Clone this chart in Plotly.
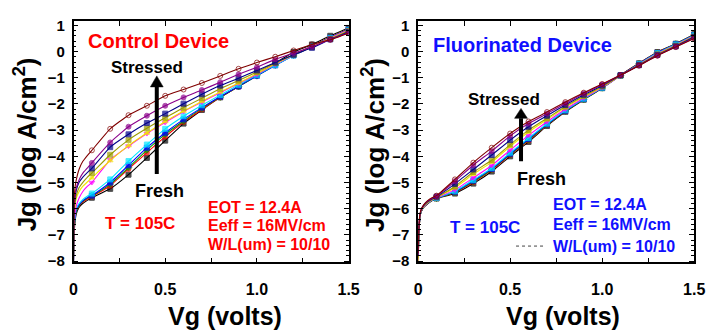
import plotly.graph_objects as go

W, H = 715, 336

# shared Vg grid (dense near 0 for the steep rise, markers every 0.1 V)
vg = [0, 0.003, 0.008, 0.015, 0.03, 0.05, 0.075,
      0.1, 0.2, 0.3, 0.4, 0.5, 0.6, 0.7, 0.8, 0.9, 1.0, 1.1, 1.2, 1.3, 1.4, 1.5]

curve_names = ["fresh", "s1", "s2", "s3", "s4", "s5", "s6", "s7", "s8", "s9", "s10"]
curve_colors = ["#000000", "#ff0000", "#00a000", "#0000ff", "#00e5ff", "#ff00ff",
                "#f2e600", "#999900", "#000088", "#8b008b", "#800000"]
curve_symbols = ["square", "circle", "diamond", "square", "square", "triangle-down",
                 "triangle-up", "square", "square", "circle", "circle-open"]

# Control device, log10(Jg)
ctrl_fresh = [-8, -7.1, -6.5, -6.2, -5.95, -5.8, -5.68,
              -5.58, -5.24, -4.7, -4.06, -3.4, -2.75, -2.23, -1.75, -1.33, -0.88, -0.44, -0.02, 0.27, 0.6, 0.9]
ctrl_s1 = [-8, -7.0, -6.4, -6.1, -5.9, -5.75, -5.64,
           -5.54, -5.12, -4.48, -3.86, -3.25, -2.69, -2.21, -1.75, -1.34, -0.92, -0.5, -0.12, 0.21, 0.55, 0.86]
ctrl_s2 = [-8, -7.0, -6.4, -6.1, -5.88, -5.72, -5.6,
           -5.51, -5.06, -4.43, -3.76, -3.16, -2.65, -2.17, -1.74, -1.34, -0.93, -0.52, -0.14, 0.2, 0.54, 0.85]
ctrl_s3 = [-8, -6.9, -6.35, -6.05, -5.85, -5.7, -5.58,
           -5.5, -5.0, -4.34, -3.67, -3.1, -2.59, -2.14, -1.72, -1.33, -0.93, -0.53, -0.15, 0.19, 0.53, 0.84]
ctrl_s4 = [-8, -6.9, -6.3, -6.0, -5.8, -5.65, -5.52,
           -5.42, -4.88, -4.18, -3.55, -2.95, -2.47, -2.05, -1.66, -1.27, -0.9, -0.52, -0.15, 0.18, 0.52, 0.83]
ctrl_s5 = [-8, -6.8, -6.2, -5.9, -5.6, -5.35, -5.15,
           -5.0, -4.13, -3.61, -3.13, -2.71, -2.29, -1.93, -1.57, -1.22, -0.87, -0.49, -0.13, 0.19, 0.52, 0.82]
ctrl_s6 = [-7.8, -6.5, -5.9, -5.6, -5.35, -5.15, -4.98,
           -4.82, -4.16, -3.59, -3.11, -2.67, -2.27, -1.9, -1.54, -1.2, -0.84, -0.47, -0.13, 0.18, 0.5, 0.8]
ctrl_s7 = [-7.8, -6.4, -5.8, -5.5, -5.2, -5.0, -4.8,
           -4.64, -3.94, -3.37, -2.93, -2.53, -2.14, -1.78, -1.42, -1.11, -0.78, -0.43, -0.12, 0.17, 0.48, 0.78]
ctrl_s8 = [-7.6, -6.2, -5.6, -5.3, -5.0, -4.8, -4.62,
           -4.46, -3.65, -3.16, -2.73, -2.37, -1.99, -1.63, -1.3, -1.02, -0.72, -0.42, -0.12, 0.14, 0.46, 0.75]
ctrl_s9 = [-7.5, -6.0, -5.5, -5.2, -4.9, -4.65, -4.45,
           -4.25, -3.47, -2.87, -2.45, -2.07, -1.75, -1.47, -1.17, -0.87, -0.6, -0.3, -0.06, 0.18, 0.46, 0.72]
ctrl_s10 = [-7.3, -5.7, -5.2, -4.9, -4.5, -4.2, -3.97,
            -3.77, -2.95, -2.43, -2.07, -1.69, -1.45, -1.2, -0.93, -0.66, -0.42, -0.2, 0.04, 0.27, 0.45, 0.7]

# Fluorinated device, log10(Jg)
fl_fresh = [-8, -7.3, -6.5, -6.15, -5.95, -5.82, -5.7,
            -5.61, -5.42, -5.04, -4.58, -4.0, -3.45, -2.84, -2.3, -1.84, -1.4, -0.9, -0.45, -0.02, 0.3, 0.66]
fl_s1 = [-8, -7.3, -6.5, -6.15, -5.94, -5.81, -5.69,
         -5.6, -5.38, -4.99, -4.52, -3.95, -3.4, -2.81, -2.28, -1.82, -1.39, -0.9, -0.46, -0.03, 0.29, 0.65]
fl_s2 = [-8, -7.25, -6.48, -6.14, -5.94, -5.8, -5.69,
         -5.6, -5.37, -4.96, -4.5, -3.93, -3.37, -2.8, -2.27, -1.82, -1.39, -0.91, -0.47, -0.04, 0.29, 0.64]
fl_s3 = [-8, -7.2, -6.46, -6.13, -5.93, -5.8, -5.68,
         -5.59, -5.35, -4.93, -4.48, -3.9, -3.34, -2.78, -2.26, -1.81, -1.38, -0.91, -0.47, -0.05, 0.28, 0.63]
fl_s4 = [-8, -7.2, -6.45, -6.12, -5.93, -5.79, -5.68,
         -5.59, -5.33, -4.9, -4.45, -3.86, -3.3, -2.75, -2.24, -1.8, -1.38, -0.92, -0.48, -0.06, 0.27, 0.62]
fl_s5 = [-8, -7.1, -6.42, -6.1, -5.92, -5.78, -5.67,
         -5.58, -5.28, -4.82, -4.35, -3.76, -3.2, -2.68, -2.2, -1.77, -1.37, -0.93, -0.49, -0.08, 0.25, 0.6]
fl_s6 = [-8, -7.1, -6.4, -6.1, -5.91, -5.77, -5.66,
         -5.57, -5.2, -4.68, -4.22, -3.62, -3.07, -2.6, -2.14, -1.73, -1.35, -0.92, -0.5, -0.1, 0.23, 0.58]
fl_s7 = [-7.9, -7.0, -6.38, -6.09, -5.9, -5.76, -5.65,
         -5.56, -5.15, -4.6, -4.15, -3.55, -3.0, -2.55, -2.1, -1.7, -1.33, -0.92, -0.51, -0.11, 0.22, 0.57]
fl_s8 = [-7.8, -7.0, -6.35, -6.08, -5.88, -5.74, -5.63,
         -5.54, -5.05, -4.5, -3.95, -3.38, -2.87, -2.45, -2.04, -1.65, -1.3, -0.91, -0.52, -0.13, 0.2, 0.55]
fl_s9 = [-7.8, -6.9, -6.32, -6.06, -5.86, -5.72, -5.61,
         -5.52, -4.95, -4.33, -3.8, -3.22, -2.75, -2.37, -1.98, -1.6, -1.26, -0.9, -0.53, -0.15, 0.18, 0.52]
fl_s10 = [-7.7, -6.9, -6.3, -6.05, -5.85, -5.7, -5.58,
          -5.5, -4.88, -4.24, -3.67, -3.13, -2.67, -2.31, -1.93, -1.57, -1.24, -0.9, -0.54, -0.16, 0.17, 0.5]

ctrl_curves = [ctrl_fresh, ctrl_s1, ctrl_s2, ctrl_s3, ctrl_s4, ctrl_s5,
               ctrl_s6, ctrl_s7, ctrl_s8, ctrl_s9, ctrl_s10]
fl_curves = [fl_fresh, fl_s1, fl_s2, fl_s3, fl_s4, fl_s5,
             fl_s6, fl_s7, fl_s8, fl_s9, fl_s10]

y_ticks = [-8, -7, -6, -5, -4, -3, -2, -1, 0, 1]
x_ticks = [0, 0.5, 1.0, 1.5]
x_tick_text = ["0", "0.5", "1.0", "1.5"]

FONT = "Liberation Sans, Arial, sans-serif"

msize = [0] * 7 + [5] * 15

fig = go.Figure()
for curves, xa, ya in [(ctrl_curves, "x", "y"), (fl_curves, "x2", "y2")]:
    for i, yv in enumerate(curves):
        fig.add_trace(go.Scatter(
            x=vg, y=yv, xaxis=xa, yaxis=ya, mode="lines+markers",
            name=curve_names[i], showlegend=False, cliponaxis=True,
            line=dict(color=curve_colors[i], width=1.1, shape="spline", smoothing=0.4),
            marker=dict(symbol=curve_symbols[i], size=msize, color=curve_colors[i],
                        line=dict(width=1, color=curve_colors[i])),
        ))


def px(x):
    return x / W


def py(y):
    return 1 - y / H


ydom = [py(267), py(17)]
axis_common = dict(
    showline=True, linecolor="black", linewidth=1.5, mirror="allticks",
    ticks="inside", ticklen=5, tickwidth=1, tickcolor="black",
    showgrid=False, zeroline=False,
    tickfont=dict(family=FONT, size=16, color="black", weight="bold"),
)
xaxis_common = dict(axis_common, range=[0, 1.5], tickvals=x_ticks, ticktext=x_tick_text,
                    ticklabelstandoff=12,
                    minor=dict(ticks="inside", ticklen=5, dtick=0.25, tick0=0, tickcolor="black"))
yaxis_common = dict(axis_common, range=[-8.05, 1.15], tickvals=y_ticks,
                    ticklabelstandoff=4,
                    tickfont=dict(family=FONT, size=15, color="black", weight="bold"),
                    minor=dict(ticks="inside", ticklen=3, dtick=0.2, tick0=0, tickcolor="black"))

fig.update_layout(
    width=W, height=H, margin=dict(l=0, r=0, t=0, b=0),
    paper_bgcolor="white", plot_bgcolor="white",
    xaxis=dict(xaxis_common, domain=[px(71), px(352)], anchor="y"),
    yaxis=dict(yaxis_common, domain=ydom, anchor="x"),
    xaxis2=dict(xaxis_common, domain=[px(423), px(705)], anchor="y2"),
    yaxis2=dict(yaxis_common, domain=ydom, anchor="x2"),
)

ann = []


def text(x, y, s, color, size, anchor="left"):
    ann.append(dict(x=px(x), y=py(y), xref="paper", yref="paper", text=s, showarrow=False,
                    xanchor=anchor, yanchor="middle",
                    font=dict(family=FONT, size=size, color=color, weight="bold")))


# axis titles
for cx in (22, 378):
    ann.append(dict(x=px(cx), y=py(145), xref="paper", yref="paper",
                    text="Jg (log A/cm<sup>2</sup>)", showarrow=False, textangle=-90,
                    xanchor="center", yanchor="middle",
                    font=dict(family=FONT, size=26, color="black", weight="bold")))
for cx in (226, 571):
    ann.append(dict(x=px(cx), y=py(322), xref="paper", yref="paper", text="Vg (volts)",
                    showarrow=False, xanchor="center", yanchor="middle",
                    font=dict(family=FONT, size=25, color="black", weight="bold")))

RED = "#ff0000"
BLUE = "#1010ff"
# left panel labels
text(84, 37, "Control Device", RED, 20)
text(107, 65, "Stressed", "black", 17)
text(132, 193, "Fresh", "black", 18)
text(101, 227, "T = 105C", RED, 17)
text(206, 210, "EOT = 12.4A", RED, 16)
text(206, 229, "Eeff = 16MV/cm", RED, 16)
text(206, 248, "W/L(um) = 10/10", RED, 16)
# right panel labels
text(436, 41, "Fluorinated Device", BLUE, 20)
text(472, 98, "Stressed", "black", 17)
text(522, 180, "Fresh", "black", 18)
text(454, 231, "T = 105C", BLUE, 17)
text(559, 207, "EOT = 12.4A", BLUE, 16)
text(559, 228, "Eeff = 16MV/cm", BLUE, 16)
text(559, 250, "W/L(um) = 10/10", BLUE, 16)

fig.update_layout(annotations=ann)

# "Stressed <- Fresh" arrows as shapes (data coordinates of each panel)
arrow_specs = [("x", "y", 0.454, -4.67, -1.35, 0.035, 0.42),
               ("x2", "y2", 0.559, -4.19, -2.55, 0.035, 0.38)]
for xr, yr, ax_, y0, y1, hw, hh in arrow_specs:
    fig.add_shape(type="line", xref=xr, yref=yr, x0=ax_, x1=ax_, y0=y0, y1=y1,
                  line=dict(color="black", width=4))
    fig.add_shape(type="path", xref=xr, yref=yr,
                  path=f"M {ax_ - hw},{y1} L {ax_ + hw},{y1} L {ax_},{y1 + hh} Z",
                  fillcolor="black", line=dict(color="black", width=0.5))

# faint dashed artifact in right panel
fig.add_shape(type="line", xref="paper", yref="paper", x0=px(523), x1=px(552), y0=py(250), y1=py(250),
              line=dict(color="#444444", width=1, dash="dot"))

fig.write_html("out.html")
